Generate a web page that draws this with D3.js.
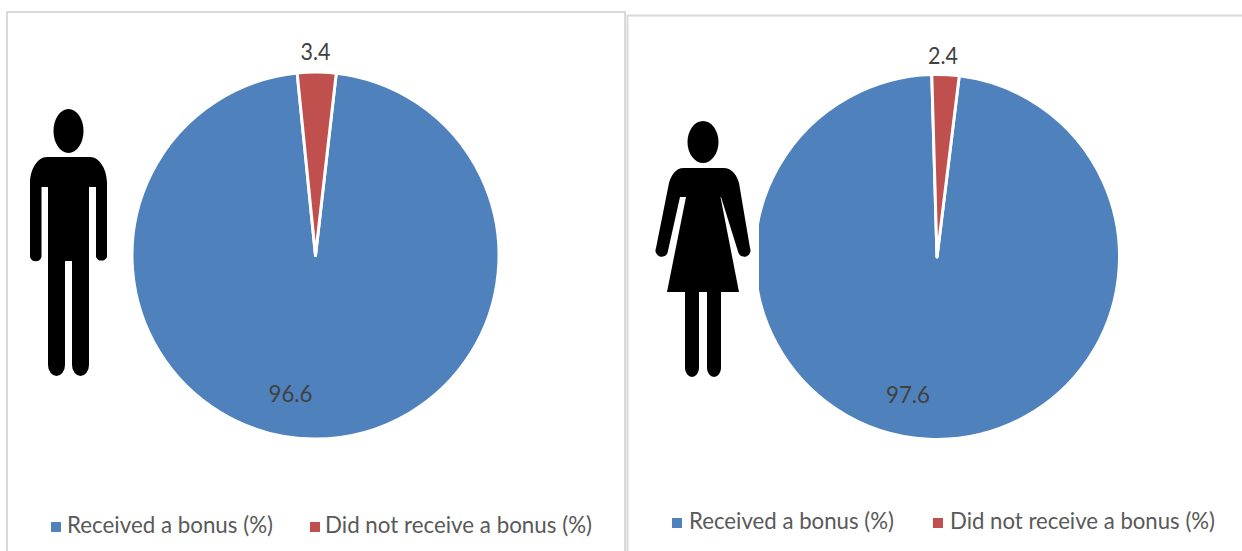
<!DOCTYPE html>
<html>
<head>
<meta charset="utf-8">
<script src="https://cdn.jsdelivr.net/npm/d3@7"></script>
<style>
  html, body { margin: 0; padding: 0; background: #fff; }
  svg { display: block; }
  text { font-family: Lato, "Open Sans", sans-serif; fill: #595959; }
</style>
</head>
<body>
<div id="chart"></div>
<script>
const categories = ["Received a bonus (%)", "Did not receive a bonus (%)"];
const menValues = [96.6, 3.4];
const womenValues = [97.6, 2.4];
const sliceColors = ["#4f81bd", "#c0504d"];

const width = 1242;
const height = 551;
const toRad = Math.PI / 180;

const color = d3.scaleOrdinal().domain(categories).range(sliceColors);

const svg = d3
  .select("#chart")
  .append("svg")
  .attr("width", width)
  .attr("height", height);

// panel frames, no bottom edge in the picture
const frames = [
  "M7 551 V12 H625 V551",
  "M627.5 551 V15.5 H1242",
];
svg
  .selectAll("path.frame")
  .data(frames)
  .join("path")
  .attr("class", "frame")
  .attr("d", (d) => d)
  .attr("fill", "none")
  .attr("stroke", "#d9d9d9")
  .attr("stroke-width", 2);

function drawPie(cfg) {
  const g = svg.append("g").attr("transform", `translate(${cfg.cx},${cfg.cy})`);

  const pie = d3
    .pie()
    .sort(null)
    .startAngle(cfg.start * toRad)
    .endAngle((cfg.start + 360) * toRad);
  const arc = d3.arc().innerRadius(0).outerRadius(cfg.r);

  const slices = pie(cfg.values);

  g.selectAll("path")
    .data(slices)
    .join("path")
    .attr("d", arc)
    .attr("fill", (d, i) => color(categories[i]))
    .attr("stroke", "#fff")
    .attr("stroke-width", 3)
    .attr("stroke-linejoin", "round");

  g.selectAll("text")
    .data(slices)
    .join("text")
    .attr("x", (d, i) => cfg.labels[i][0])
    .attr("y", (d, i) => cfg.labels[i][1])
    .attr("text-anchor", "middle")
    .attr("dominant-baseline", "central")
    .attr("font-size", 24)
    .attr("textLength", (d) => (d.value < 10 ? 30 : 44))
    .attr("lengthAdjust", "spacingAndGlyphs")
    .style("fill", "#404040")
    .text((d) => d.value.toFixed(1));
}

function drawLegend(items, y) {
  const g = svg.append("g");
  items.forEach((it, i) => {
    g.append("rect")
      .attr("x", it.box)
      .attr("y", y - 11)
      .attr("width", 10)
      .attr("height", 10)
      .attr("fill", color(categories[i]));
    g.append("text")
      .attr("x", it.text)
      .attr("y", y)
      .attr("font-size", 24)
      .attr("textLength", it.len)
      .attr("lengthAdjust", "spacingAndGlyphs")
      .text(categories[i]);
  });
}

drawPie({
  cx: 315.5,
  cy: 255.5,
  r: 183.5,
  start: 6.5,
  values: menValues,
  labels: [[-25, 137], [0, -205]],
});
drawPie({
  cx: 937,
  cy: 257,
  r: 182.5,
  start: 7,
  values: womenValues,
  labels: [[-29, 136], [6, -203]],
});

drawLegend(
  [
    { box: 51, text: 67, len: 206 },
    { box: 310, text: 325, len: 267 },
  ],
  533
);
drawLegend(
  [
    { box: 672, text: 689, len: 205 },
    { box: 933, text: 950, len: 265 },
  ],
  529
);

// man pictogram
const man = svg.append("g");
man
  .append("ellipse")
  .attr("cx", 68.5)
  .attr("cy", 131)
  .attr("rx", 15)
  .attr("ry", 22);
man
  .append("path")
  .attr(
    "d",
    "M47 157 H90 C100 157 107 170 107 183 V257 A6 6 0 0 1 96 257 V187 H89 V365 " +
      "A8.5 11 0 0 1 72 365 V261 H65 V365 A8.5 11 0 0 1 48 365 V187 H41.5 V257 " +
      "A6 6 0 0 1 30 257 V183 C30 170 37 157 47 157 Z"
  );

// woman pictogram, its white box hides the left edge of the pie
const woman = svg.append("g");
woman
  .append("rect")
  .attr("x", 640)
  .attr("y", 100)
  .attr("width", 119)
  .attr("height", 290)
  .attr("fill", "#fff");
woman
  .append("ellipse")
  .attr("cx", 703)
  .attr("cy", 142)
  .attr("rx", 15.5)
  .attr("ry", 21);
woman
  .append("path")
  .attr(
    "d",
    "M684 168 H723 C733 168 737 176 739 183 L750 248 A6 6 0 0 1 738.5 253 L721 197 H720.5 " +
      "L739 292 H721 V368 A7 9 0 0 1 707 368 V292 H699 V368 A7 9 0 0 1 685 368 V292 H667 " +
      "L686 197 H680 L667.5 253 A6 6 0 0 1 656 248 L669 183 C671 176 675 168 684 168 Z"
  );
</script>
</body>
</html>
